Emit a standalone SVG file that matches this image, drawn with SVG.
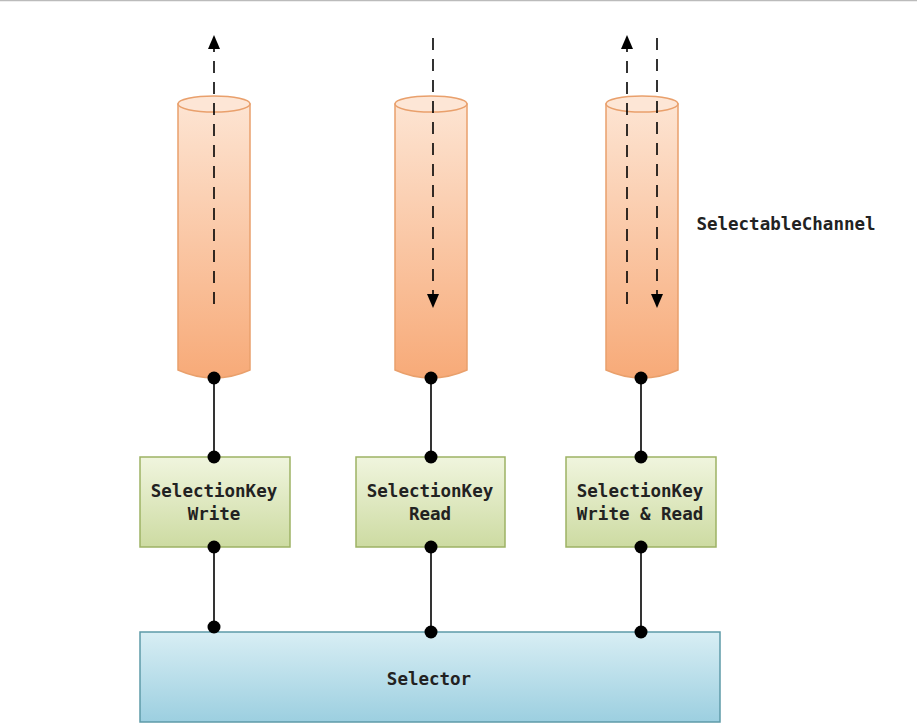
<svg xmlns="http://www.w3.org/2000/svg" width="917" height="728" viewBox="0 0 917 728">
<defs>
<linearGradient id="gCyl" x1="0" y1="0" x2="0" y2="1">
<stop offset="0" stop-color="#fde4d2"/>
<stop offset="1" stop-color="#f7aa78"/>
</linearGradient>
<linearGradient id="gKey" x1="0" y1="0" x2="0" y2="1">
<stop offset="0" stop-color="#f0f5de"/>
<stop offset="1" stop-color="#cddba2"/>
</linearGradient>
<linearGradient id="gSel" x1="0" y1="0" x2="0" y2="1">
<stop offset="0" stop-color="#d8eef4"/>
<stop offset="1" stop-color="#9ccfe0"/>
</linearGradient>
<marker id="arr" viewBox="0 0 14 12" refX="12" refY="6" markerWidth="14" markerHeight="12" markerUnits="userSpaceOnUse" orient="auto">
<path d="M0,0 L14,6 L0,12 z" fill="#000"/>
</marker>
<style>
.cyl{fill:url(#gCyl);stroke:#e9a06c;stroke-width:1.5}
.cyltop{fill:#fde6d6;stroke:#e9a06c;stroke-width:1.5}
.key{fill:url(#gKey);stroke:#9db264;stroke-width:1.5}
.sel{fill:url(#gSel);stroke:#5e9aa8;stroke-width:1.5}
.dash{stroke:#000;stroke-width:1.6;stroke-dasharray:12,9;fill:none}
.link{stroke:#000;stroke-width:1.6}
.dot{fill:#000}
.t{font-family:"DejaVu Sans Mono","Liberation Mono",monospace;font-size:17.5px;font-weight:bold;fill:#222;text-anchor:middle}
</style>
</defs>
<rect x="0" y="0" width="917" height="728" fill="#fff"/>
<line x1="0" y1="0.5" x2="917" y2="0.5" stroke="#bbb" stroke-width="1.5"/>

<g id="channel1">
<path class="cyl" d="M178,104 L178,370 Q214,386 250,370 L250,104 Z"/>
<ellipse class="cyltop" cx="214" cy="104" rx="36" ry="8"/>
</g>
<g id="channel2">
<path class="cyl" d="M395,104 L395,370 Q431,386 467,370 L467,104 Z"/>
<ellipse class="cyltop" cx="431" cy="104" rx="36" ry="8"/>
</g>
<g id="channel3">
<path class="cyl" d="M606,104 L606,370 Q642,386 678,370 L678,104 Z"/>
<ellipse class="cyltop" cx="642" cy="104" rx="36" ry="8"/>
</g>

<g id="key1">
<rect class="key" x="140" y="457" width="150" height="90"/>
<text class="t" x="214" y="497">SelectionKey</text>
<text class="t" x="214" y="520">Write</text>
</g>
<g id="key2">
<rect class="key" x="356" y="457" width="149" height="90"/>
<text class="t" x="430" y="497">SelectionKey</text>
<text class="t" x="430" y="520">Read</text>
</g>
<g id="key3">
<rect class="key" x="566" y="457" width="150" height="90"/>
<text class="t" x="640" y="497">SelectionKey</text>
<text class="t" x="640" y="520">Write &amp; Read</text>
</g>

<g id="selector">
<rect class="sel" x="140" y="632" width="580" height="90"/>
<text class="t" x="429" y="685">Selector</text>
</g>

<g id="label">
<text class="t" x="786" y="230">SelectableChannel</text>
</g>

<g id="connectors">
<line class="dash" x1="214" y1="304" x2="214" y2="37" marker-end="url(#arr)"/>
<line class="dash" x1="433" y1="38" x2="433" y2="306" marker-end="url(#arr)"/>
<line class="dash" x1="627" y1="304" x2="627" y2="37" marker-end="url(#arr)"/>
<line class="dash" x1="657" y1="38" x2="657" y2="306" marker-end="url(#arr)"/>

<line class="link" x1="214" y1="378" x2="214" y2="457"/>
<line class="link" x1="431" y1="378" x2="431" y2="457"/>
<line class="link" x1="641" y1="378" x2="641" y2="457"/>
<line class="link" x1="214" y1="547" x2="214" y2="627"/>
<line class="link" x1="431" y1="547" x2="431" y2="632"/>
<line class="link" x1="641" y1="547" x2="641" y2="632"/>

<circle class="dot" cx="214" cy="378" r="6.5"/>
<circle class="dot" cx="431" cy="378" r="6.5"/>
<circle class="dot" cx="641" cy="378" r="6.5"/>
<circle class="dot" cx="214" cy="457" r="6.5"/>
<circle class="dot" cx="431" cy="457" r="6.5"/>
<circle class="dot" cx="641" cy="457" r="6.5"/>
<circle class="dot" cx="214" cy="547" r="6.5"/>
<circle class="dot" cx="431" cy="547" r="6.5"/>
<circle class="dot" cx="641" cy="547" r="6.5"/>
<circle class="dot" cx="214" cy="627" r="6.5"/>
<circle class="dot" cx="431" cy="632" r="6.5"/>
<circle class="dot" cx="641" cy="632" r="6.5"/>
</g>
</svg>
